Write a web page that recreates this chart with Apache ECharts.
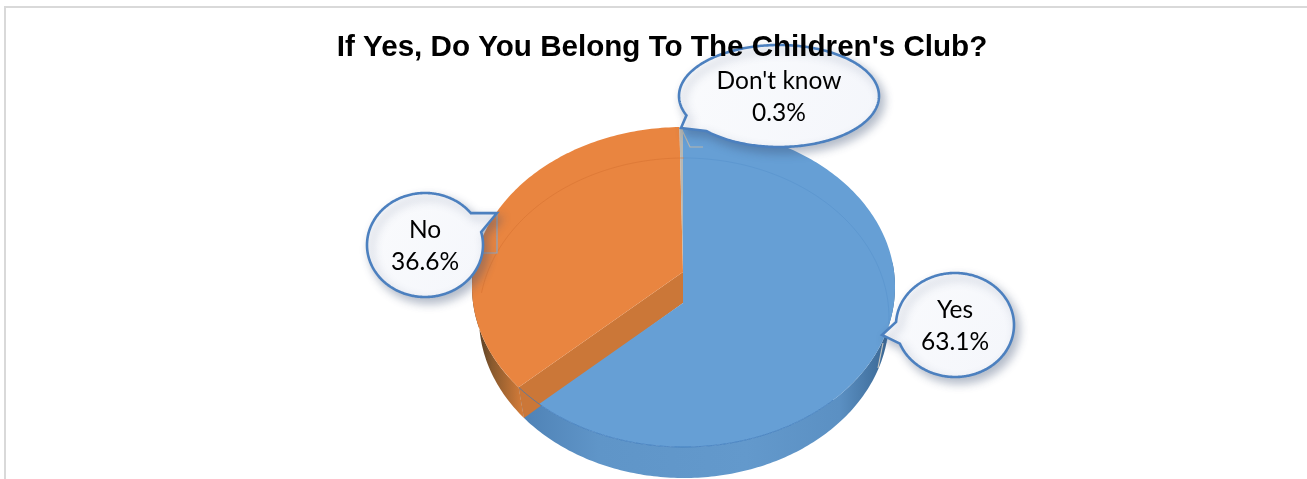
<!DOCTYPE html>
<html>
<head>
<meta charset="utf-8">
<title>If Yes, Do You Belong To The Children's Club?</title>
<style>
  html, body { margin: 0; padding: 0; background: #fff; }
  #chart { width: 1307px; height: 479px; }
</style>
<script src="https://cdn.jsdelivr.net/npm/echarts@6/dist/echarts.min.js"></script>
</head>
<body>
<div id="chart"></div>
<script>
// Survey answers, in clockwise order from twelve o'clock.
const categories = ["Yes", "No", "Don't know"];
const percentages = [63.1, 36.6, 0.3];
const chartTitle = "If Yes, Do You Belong To The Children's Club?";

// Tilted-disc geometry of the pie.
const topRim = { cx: 683.5, cy: 287, rx: 211.5, ry: 160 };
const baseRim = { cx: 684, cy: 318, rx: 205, ry: 160 };
const raisedHub = [683, 272];
const lowerHub = [683, 303];

// Speech-bubble outlines, one for each category.
const bubbles = [
  { cx: 955, cy: 325, rx: 59, ry: 52, tip: [882, 335], a: [898, 322], b: [902, 343] },
  { cx: 425, cy: 245, rx: 58, ry: 52, tip: [497, 213], a: [471, 213], b: [481, 232] },
  { cx: 779, cy: 96, rx: 100, ry: 51, tip: [681, 128], a: [688, 115], b: [708, 130] }
];
const leaders = [
  [[883, 343], [878, 368]],
  [[497, 213], [497, 253], [483, 253]],
  [[682, 130], [690, 147], [703, 147]]
];

const TAU = Math.PI * 2;
const total = percentages.reduce((s, v) => s + v, 0);
const sweeps = [];
percentages.reduce((from, v) => {
  const to = from + (v / total) * TAU;
  sweeps.push([from, to]);
  return to;
}, 0);

// Where a spoke leaving the hub at a given pie angle meets an elliptical rim.
function spokeHit(hub, rim, angle) {
  const dx = Math.sin(angle) * rim.rx, dy = -Math.cos(angle) * rim.ry;
  const ox = (hub[0] - rim.cx) / rim.rx, oy = (hub[1] - rim.cy) / rim.ry;
  const ux = dx / rim.rx, uy = dy / rim.ry;
  const A = ux * ux + uy * uy, B = 2 * (ox * ux + oy * uy), C = ox * ox + oy * oy - 1;
  const t = (-B + Math.sqrt(B * B - 4 * A * C)) / (2 * A);
  return [hub[0] + dx * t, hub[1] + dy * t];
}
// Clockwise-from-top parameter of a point on a rim, in 0..2pi.
function rimParam(rim, p) {
  let a = Math.atan2((p[0] - rim.cx) / rim.rx, -(p[1] - rim.cy) / rim.ry);
  if (a < 0) a += TAU;
  return a;
}
function rimPoint(rim, a) {
  return [rim.cx + rim.rx * Math.sin(a), rim.cy - rim.ry * Math.cos(a)];
}
function rimArc(rim, from, to) {
  const pts = [], n = Math.max(2, Math.ceil(Math.abs(to - from) * 60));
  for (let i = 0; i <= n; i++) pts.push(rimPoint(rim, from + (to - from) * i / n));
  return pts;
}
// Slice sweep on a rim as an increasing parameter pair.
function sliceArc(hub, rim, s) {
  const a = rimParam(rim, spokeHit(hub, rim, s[0]));
  const b = rimParam(rim, spokeHit(hub, rim, s[1]));
  return rimArc(rim, a, a + (((b - a) % TAU) + TAU) % TAU);
}

const hGrad = (x0, x1, stops) => ({
  type: 'linear', x: x0, y: 0, x2: x1, y2: 0, global: true,
  colorStops: stops.map(s => ({ offset: s[0], color: s[1] }))
});
const poly = (points, style) => ({ type: 'polygon', shape: { points }, style });
const line = (points, stroke, lineWidth) => ({
  type: 'polyline', shape: { points },
  style: { fill: null, stroke, lineWidth }
});

// Side walls sit behind the slice faces.
function renderWalls(params) {
  const split = sweeps[0][1];
  const corner = spokeHit(lowerHub, baseRim, split);
  const cornerTop = spokeHit(raisedHub, topRim, split);
  if (params.dataIndex === 0) {
    const start = rimParam(baseRim, corner);
    const pts = rimArc(baseRim, start, Math.PI * 0.45).concat(
      rimArc(topRim, Math.PI * 0.45, rimParam(topRim, cornerTop)));
    return poly(pts, {
      fill: hGrad(523, 895, [[0, '#4f82b6'], [0.2, '#5f95c8'], [0.6, '#6399cc'], [0.85, '#5b90c3'], [0.95, '#42719f'], [1, '#37618c']])
    });
  }
  if (params.dataIndex === 1) {
    const from = rimParam(baseRim, corner);
    const outer = rimArc(baseRim, from, Math.PI * 1.6).concat(
      rimArc(topRim, Math.PI * 1.6, rimParam(topRim, cornerTop)));
    return {
      type: 'group', children: [
        poly(outer, { fill: hGrad(476, 523, [[0, '#4f3a24'], [0.35, '#8a5a2e'], [1, '#d57c39']]) }),
        poly([raisedHub, cornerTop, corner, lowerHub], { fill: '#cb7738' })
      ]
    };
  }
  return null;
}

// Upper faces of the slices; the larger slice sits lower than the raised one.
function renderFaces(params) {
  const i = params.dataIndex;
  const hub = i === 0 ? lowerHub : raisedHub;
  const fill = ['#669fd5', '#e98540', 'rgba(170,170,165,0.85)'][i];
  return poly([hub].concat(sliceArc(hub, topRim, sweeps[i])), { fill });
}

function renderRims() {
  const cut = rimParam(topRim, spokeHit(raisedHub, topRim, sweeps[0][1]));
  return {
    type: 'group', children: [
      line(rimArc(baseRim, 0, Math.PI * 0.55), 'rgba(80,140,200,0.4)', 1),
      line(rimArc(baseRim, Math.PI * 1.55, TAU), 'rgba(215,115,50,0.6)', 1),
      line(rimArc(topRim, Math.PI * 0.75, cut), 'rgba(60,120,185,0.75)', 1)
    ]
  };
}

function renderLeader(params) {
  const i = params.dataIndex;
  return line(leaders[i], ['#c4c4bf', '#8ea7c2', '#b5b5ae'][i], 1.2);
}

// Speech bubble with its category name and percentage.
function renderBubble(params, api) {
  const i = params.dataIndex, o = bubbles[i];
  const a0 = rimParam(o, o.a), b0 = rimParam(o, o.b);
  // Walk the long way round the ellipse, from one tail root to the other.
  const gap = (((b0 - a0) % TAU) + TAU) % TAU;
  const arc = gap < Math.PI ? rimArc(o, b0, b0 + TAU - gap) : rimArc(o, a0, a0 + gap);
  return {
    type: 'group', children: [
      poly([o.tip].concat(arc), {
        fill: {
          type: 'linear', x: 0, y: 0, x2: 1, y2: 1,
          colorStops: [{ offset: 0, color: '#fafbfd' }, { offset: 1, color: '#f4f6fb' }]
        },
        stroke: '#4c80bf', lineWidth: 2.6, lineJoin: 'miter',
        shadowBlur: 10, shadowOffsetX: 4, shadowOffsetY: 5, shadowColor: 'rgba(60,80,115,0.38)'
      }),
      {
        type: 'text',
        style: {
          text: categories[i] + '\n' + api.value(0).toFixed(1) + '%',
          x: o.cx, y: o.cy + 1,
          align: 'center', verticalAlign: 'middle',
          fontFamily: 'Lato', fontSize: 24.5, lineHeight: 32, fill: '#000'
        }
      }
    ]
  };
}

const base = { type: 'custom', coordinateSystem: 'none', silent: true, animation: false, data: percentages.map(v => [v]) };
const chart = echarts.init(document.getElementById('chart'), null, { renderer: 'canvas' });
chart.setOption({
  animation: false,
  backgroundColor: '#ffffff',
  title: {
    text: chartTitle,
    left: 657, top: 28, textAlign: 'center', z: 20,
    textStyle: { fontFamily: 'Liberation Sans', fontWeight: 'bold', fontSize: 29.6, color: '#000' }
  },
  graphic: [
    { type: 'rect', silent: true, shape: { x: 4, y: 6, width: 1303, height: 2 }, style: { fill: '#d9d9d9' } },
    { type: 'rect', silent: true, shape: { x: 4, y: 6, width: 2, height: 473 }, style: { fill: '#d9d9d9' } }
  ],
  series: [
    Object.assign({}, base, { name: 'walls', z: 2, renderItem: renderWalls }),
    Object.assign({}, base, { name: 'faces', z: 3, renderItem: renderFaces }),
    Object.assign({}, base, { name: 'rims', z: 4, data: [[0]], renderItem: renderRims }),
    Object.assign({}, base, { name: 'leaders', z: 5, renderItem: renderLeader }),
    Object.assign({}, base, { name: 'bubbles', z: 6, renderItem: renderBubble })
  ]
});
</script>
</body>
</html>
